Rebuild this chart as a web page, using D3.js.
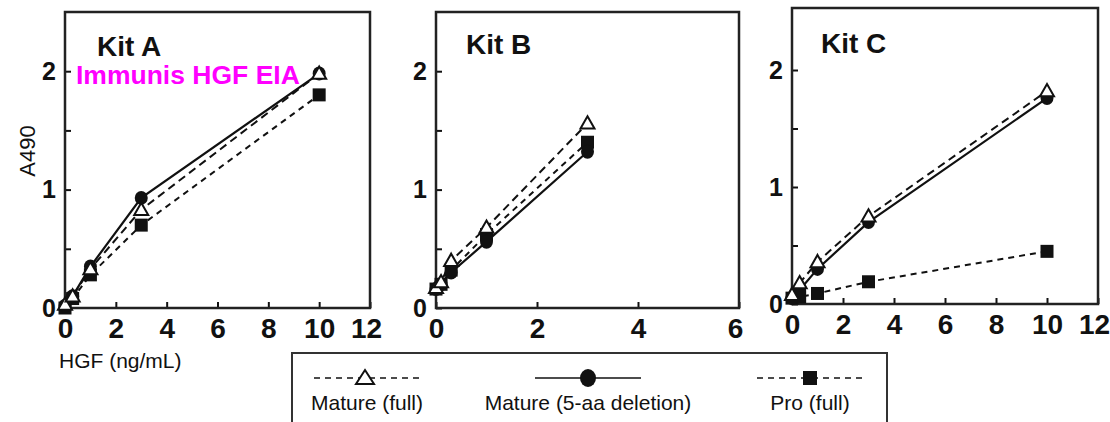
<!DOCTYPE html>
<html>
<head>
<meta charset="utf-8">
<script src="https://cdn.jsdelivr.net/npm/d3@7"></script>
<style>
  html, body { margin: 0; padding: 0; background: #fff; }
  svg { display: block; font-family: "Liberation Sans", Arial, Helvetica, sans-serif; }
</style>
</head>
<body>
<svg id="chart" width="1110" height="422"></svg>
<script>
// ---------- data ----------
const kits = ["Kit A", "Kit B", "Kit C"];
const seriesNames = ["Mature (full)", "Mature (5-aa deletion)", "Pro (full)"];

const xA = [0, 0.3, 1, 3, 10];
const kitA_matureFull = [0.03, 0.10, 0.33, 0.83, 1.98];
const kitA_matureDel  = [0.02, 0.10, 0.35, 0.93, 1.98];
const kitA_pro        = [0.00, 0.08, 0.28, 0.70, 1.80];

const xB = [0, 0.1, 0.3, 1, 3];
const kitB_matureFull = [0.17, 0.22, 0.40, 0.68, 1.56];
const kitB_matureDel  = [0.16, 0.20, 0.30, 0.56, 1.32];
const kitB_pro        = [0.16, 0.20, 0.32, 0.62, 1.40];

const xC = [0, 0.3, 1, 3, 10];
const kitC_matureFull = [0.08, 0.18, 0.36, 0.75, 1.82];
const kitC_matureDel  = [0.05, 0.12, 0.30, 0.70, 1.76];
const kitC_pro        = [0.05, 0.06, 0.09, 0.19, 0.45];

const xTicksA = [0, 2, 4, 6, 8, 10, 12];
const xTicksB = [0, 2, 4, 6];
const xTicksC = [0, 2, 4, 6, 8, 10, 12];
const yTicks = [0, 0.5, 1, 1.5, 2];

const yLabel = "A490";
const xLabel = "HGF (ng/mL)";
const note = "Immunis HGF EIA";

// ---------- layout ----------
const panels = [
  { name: kits[0], x: xA, xMax: 12, xTicks: xTicksA, yMax: 2.5,
    series: [kitA_matureFull, kitA_matureDel, kitA_pro],
    left: 65, right: 370, top: 12, bottom: 308, title: [97, 56] },
  { name: kits[1], x: xB, xMax: 6, xTicks: xTicksB, yMax: 2.5,
    series: [kitB_matureFull, kitB_matureDel, kitB_pro],
    left: 436, right: 739, top: 12, bottom: 308, title: [466, 54] },
  { name: kits[2], x: xC, xMax: 12, xTicks: xTicksC, yMax: 2.53,
    series: [kitC_matureFull, kitC_matureDel, kitC_pro],
    left: 792, right: 1098, top: 8, bottom: 304, title: [821, 53] }
];

const svg = d3.select("#chart");
const ink = "#111";
const dashFull = "8,5";
const dashPro = "6,5";

function drawMarker(g, type, cx, cy) {
  if (type === 0) {
    const s = 7;
    g.append("path")
      .attr("d", `M${cx},${cy - s} L${cx + s},${cy + s * 0.75} L${cx - s},${cy + s * 0.75} Z`)
      .attr("fill", "#fff").attr("stroke", ink).attr("stroke-width", 2);
  } else if (type === 1) {
    g.append("ellipse").attr("cx", cx).attr("cy", cy).attr("rx", 6.5).attr("ry", 7)
      .attr("fill", ink);
  } else {
    g.append("rect").attr("x", cx - 6.5).attr("y", cy - 6.5).attr("width", 13).attr("height", 13)
      .attr("fill", ink);
  }
}

panels.forEach(p => {
  const x = d3.scaleLinear().domain([0, p.xMax]).range([p.left, p.right]);
  const y = d3.scaleLinear().domain([0, p.yMax]).range([p.bottom, p.top]);
  const g = svg.append("g");

  // y axis
  const ya = g.append("g").attr("transform", `translate(${p.left},0)`)
    .call(d3.axisLeft(y).tickValues(yTicks).tickSizeInner(-6).tickSizeOuter(0).tickPadding(9)
      .tickFormat(d => Number.isInteger(d) ? d3.format("d")(d) : ""));
  ya.select(".domain").remove();
  ya.selectAll("line").attr("stroke", ink).attr("stroke-width", 2);
  ya.selectAll("text").attr("font-size", 25).attr("font-weight", "bold").attr("fill", ink)
    .attr("font-family", "Liberation Sans, Arial, sans-serif");

  // x axis
  const xa = g.append("g").attr("transform", `translate(0,${p.bottom})`)
    .call(d3.axisBottom(x).tickValues(p.xTicks).tickSizeInner(-6).tickSizeOuter(0).tickPadding(10)
      .tickFormat(d3.format("d")));
  xa.select(".domain").remove();
  xa.selectAll("line").attr("stroke", ink).attr("stroke-width", 2);
  xa.selectAll("text").attr("font-size", 28).attr("font-weight", "bold").attr("fill", ink)
    .attr("font-family", "Liberation Sans, Arial, sans-serif")
    .attr("dx", d => d === p.xMax ? -4 : 0);

  // frame
  g.append("rect").attr("x", p.left).attr("y", p.top)
    .attr("width", p.right - p.left).attr("height", p.bottom - p.top)
    .attr("fill", "none").attr("stroke", "#222").attr("stroke-width", 2.5);

  // lines
  const line = d3.line().x(d => x(d[0])).y(d => y(d[1]));
  const styles = [
    { dash: dashFull, w: 2 },
    { dash: null, w: 2.2 },
    { dash: dashPro, w: 2 }
  ];
  p.series.forEach((vals, si) => {
    const pts = p.x.map((xv, i) => [xv, vals[i]]);
    const path = g.append("path").datum(pts).attr("d", line)
      .attr("fill", "none").attr("stroke", ink).attr("stroke-width", styles[si].w);
    if (styles[si].dash) path.attr("stroke-dasharray", styles[si].dash);
  });

  // markers: squares, circles, then triangles on top
  [2, 1, 0].forEach(si => {
    p.series[si].forEach((v, i) => drawMarker(g, si, x(p.x[i]), y(v)));
  });

  // title
  g.append("text").attr("x", p.title[0]).attr("y", p.title[1])
    .attr("font-size", 28).attr("font-weight", "bold").attr("fill", ink).text(p.name);
});

// magenta note
svg.append("text").attr("x", 76).attr("y", 84).attr("font-size", 26.5).attr("font-weight", "bold")
  .attr("fill", "#ff00ff").text(note);

// axis labels
svg.append("text").attr("transform", "translate(35,151) rotate(-90)")
  .attr("text-anchor", "middle").attr("font-size", 22).attr("fill", ink).text(yLabel);
svg.append("text").attr("x", 59).attr("y", 368).attr("font-size", 21).attr("fill", ink).text(xLabel);

// legend
const lg = svg.append("g");
lg.append("rect").attr("x", 292).attr("y", 353).attr("width", 595).attr("height", 90)
  .attr("fill", "#fff").attr("stroke", "#333").attr("stroke-width", 2);
const legendCenters = [367, 588, 810];
const legendDash = ["6,5", null, "6,5"];
seriesNames.forEach((name, i) => {
  const cx = legendCenters[i];
  const l = lg.append("line").attr("x1", cx - 53).attr("x2", cx + 53).attr("y1", 378).attr("y2", 378)
    .attr("stroke", ink).attr("stroke-width", 1.6);
  if (legendDash[i]) l.attr("stroke-dasharray", legendDash[i]);
  if (i === 0) {
    lg.append("path").attr("d", `M${cx - 2},${370} L${cx + 7},${384} L${cx - 11},${384} Z`)
      .attr("fill", "#fff").attr("stroke", ink).attr("stroke-width", 2);
  } else if (i === 1) {
    lg.append("ellipse").attr("cx", cx).attr("cy", 378).attr("rx", 8).attr("ry", 9).attr("fill", ink);
  } else {
    lg.append("rect").attr("x", cx - 7).attr("y", 371).attr("width", 14).attr("height", 14).attr("fill", ink);
  }
  lg.append("text").attr("x", cx).attr("y", 410).attr("text-anchor", "middle")
    .attr("font-size", 21).attr("fill", ink).text(name);
});
</script>
</body>
</html>
